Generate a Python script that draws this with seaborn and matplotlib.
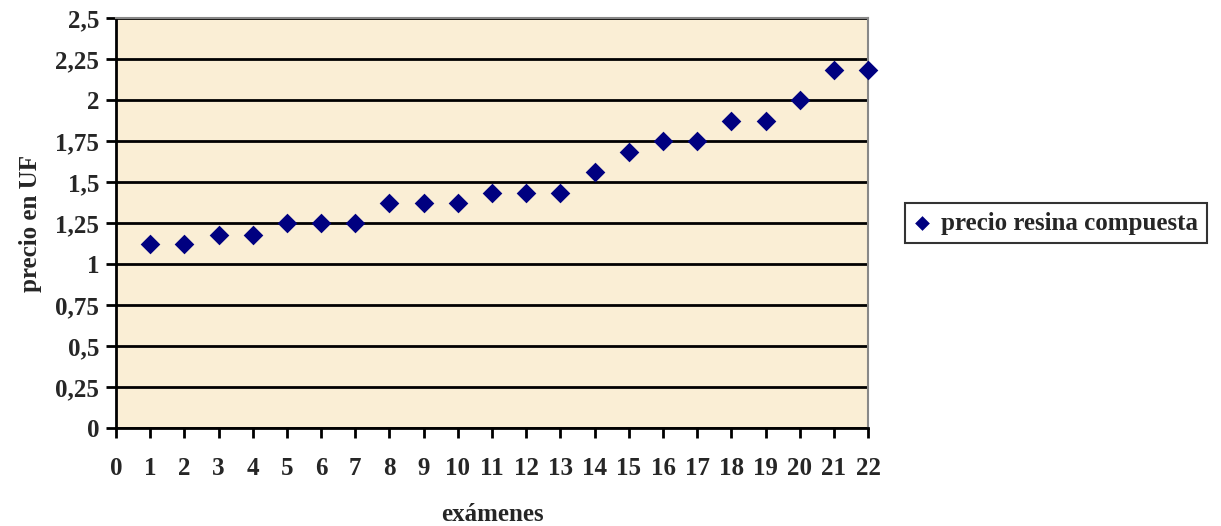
import pandas as pd
import numpy as np
import matplotlib.pyplot as plt
import seaborn as sns
from matplotlib.ticker import FixedLocator, FuncFormatter

# Data
examenes = list(range(1, 23))
precio = [1.12, 1.12, 1.18, 1.18, 1.25, 1.25, 1.25, 1.37, 1.37, 1.37, 1.43,
          1.43, 1.43, 1.56, 1.68, 1.75, 1.75, 1.87, 1.87, 2.00, 2.18, 2.18]
y_ticks = [0, 0.25, 0.5, 0.75, 1, 1.25, 1.5, 1.75, 2, 2.25, 2.5]

data = pd.DataFrame({'exámenes': examenes, 'precio': precio})

sns.set_style('white')
plt.rcParams['font.family'] = ['Liberation Serif', 'DejaVu Serif']
plt.rcParams['font.weight'] = 'bold'

fig = plt.figure(figsize=(12.21, 5.26), dpi=100)
ax = fig.add_axes([0.095, 0.186, 0.616, 0.780])
ax.set_facecolor('#FAEED5')

sns.scatterplot(x='exámenes', y='precio', data=data, ax=ax, marker='D',
                s=100, color='#000080', linewidth=0, label='precio resina compuesta',
                zorder=3, clip_on=False)

ax.set_xlim(0, 22)
ax.set_ylim(0, 2.5)
ax.xaxis.set_major_locator(FixedLocator(range(0, 23)))
ax.yaxis.set_major_locator(FixedLocator(y_ticks))
ax.yaxis.set_major_formatter(FuncFormatter(lambda v, p: ('%g' % v).replace('.', ',')))

ax.grid(axis='y', color='black', linewidth=2)
ax.set_axisbelow(True)
for side in ['left', 'bottom']:
    ax.spines[side].set_color('black')
    ax.spines[side].set_linewidth(2)
for side in ['top', 'right']:
    ax.spines[side].set_color('#888888')
    ax.spines[side].set_linewidth(1.5)

ax.tick_params(axis='both', direction='out', length=7, width=2, color='black',
               labelsize=18, pad=5, bottom=True, left=True)
ax.tick_params(axis='x', pad=14)
for lab in ax.get_xticklabels() + ax.get_yticklabels():
    lab.set_fontweight('bold')

ax.set_xlabel('exámenes', fontsize=18, fontweight='bold', labelpad=16)
ax.set_ylabel('precio en UF', fontsize=18, fontweight='bold', labelpad=10)

leg = ax.legend(loc='center left', bbox_to_anchor=(1.049, 0.5), frameon=True,
                fancybox=False, handlelength=0.7, handletextpad=0.4, borderpad=0.35,
                borderaxespad=0, prop={'size': 18, 'weight': 'bold'}, markerscale=0.75)
leg.get_frame().set_edgecolor('black')
leg.get_frame().set_linewidth(1.5)

plt.savefig('out.png', dpi=100)
